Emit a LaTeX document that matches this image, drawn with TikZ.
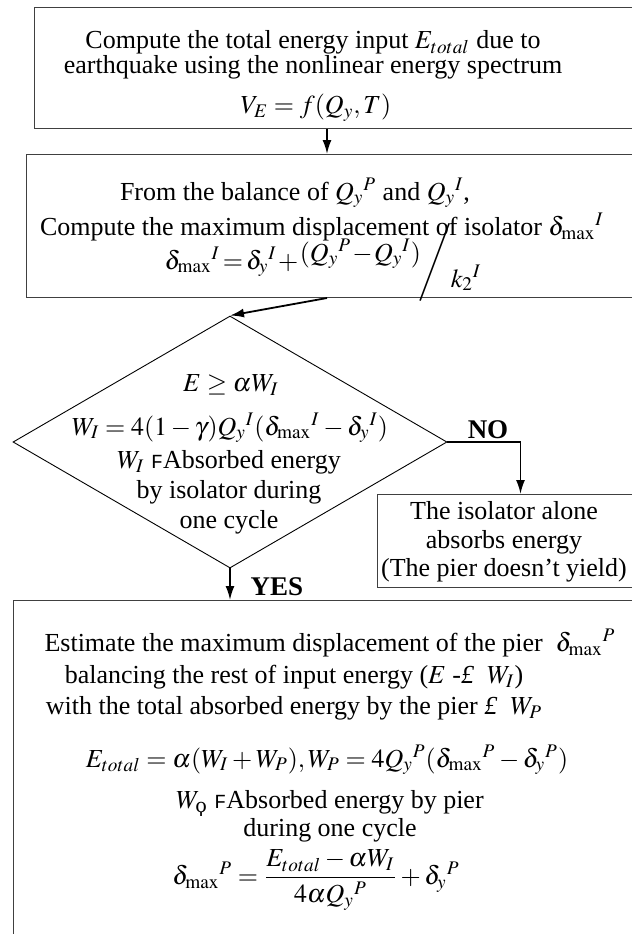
\documentclass[tikz,border=0pt]{standalone}
\usepackage{amsmath}
\usepackage{mathptmx}
\usepackage[no-math]{fontspec}
\setmainfont{Liberation Serif}
\setmonofont{Liberation Mono}
\newfontfamily\koppafont{DejaVu Serif}
\usetikzlibrary{shapes.geometric,arrows.meta}

\newcommand{\sepF}{{\fontsize{10}{10}\selectfont\ttfamily F}}

\begin{document}
\begin{tikzpicture}[x=0.5pt,y=-0.5pt]

\tikzset{
  procbox/.style={
    draw=black!75, line width=0.5pt, rectangle,
    anchor=north west, inner sep=0pt,
  },
  decbox/.style={
    draw, line width=0.45pt, diamond, inner sep=0pt,
    minimum width=217pt, minimum height=126pt,
  },
  boxtext/.style={
    inner sep=0pt, align=center, font=\fontsize{13}{14}\selectfont,
  },
  answer/.style={
    inner sep=0pt, font=\fontsize{13.5}{14}\selectfont\bfseries,
  },
  flowline/.style={
    line width=0.9pt, -{Latex[length=7pt,width=4.5pt]},
  }
}

\useasboundingbox (0,0) rectangle (632,934);
\clip (0,0) rectangle (632,934);

  % Frames
  \node[procbox, minimum width=323pt, minimum height=60.5pt] (box1) at (34,7) {};
  \node[procbox, minimum width=327pt, minimum height=71.5pt] (box2) at (26,154) {};
  \node[decbox] (dec) at (230,442) {};
  \node[procbox, minimum width=143pt, minimum height=46.5pt] (box3) at (377,494) {};
  \node[procbox, minimum width=333.5pt, minimum height=180pt] (box4) at (13,600) {};

  \coordinate (mid) at (327,140);

  % Energy input
  \node[boxtext, font=\fontsize{13}{12.5}\selectfont] (t1) at (313,55)
    {Compute the total energy input $E_{total}$ due to\\earthquake using the nonlinear energy spectrum};
  \node[boxtext] (ve) at (316,108) {$V_E = f(Q_y, T)$};

  % Isolator displacement
  \node[boxtext] (t2) at (295,193) {From the balance of $Q_y{}^P$ and $Q_y{}^I$,};
  \node[boxtext] (t3) at (322,227) {Compute the maximum displacement of isolator $\delta_{\max}{}^I$};
  \node[boxtext, anchor=base] (f1) at (323,269)
    {$\medmuskip=1mu \thickmuskip=2mu
      \delta_{\max}{}^I = \delta_y{}^I + \raisebox{4pt}{$(Q_y{}^P - Q_y{}^I)$}\!\!\left/\vrule height 16pt depth 16pt width 0pt\right.\!\!\raisebox{-9pt}{$k_2{}^I$}$};

  % Decision
  \node[boxtext] (d1) at (231,385) {$E \geq \alpha W_I$};
  \node[boxtext] (d2) at (230,428) {$W_I = 4(1-\gamma)Q_y{}^I(\delta_{\max}{}^I - \delta_y{}^I)$};
  \node[boxtext, font=\fontsize{13}{15}\selectfont] (d3) at (229,492)
    {$W_I$ \sepF Absorbed energy\\by isolator during\\one cycle};

  \node[answer] (no) at (488,430) {NO};
  \node[answer] (yes) at (277,587) {YES};

  % Isolator only
  \node[boxtext, font=\fontsize{13}{14.25}\selectfont] (t4) at (504,542)
    {The isolator alone\\absorbs energy\\(The pier doesn’t yield)};

  % Pier displacement
  \node[boxtext] (t5) at (330,643) {Estimate the maximum displacement of the pier~~$\delta_{\max}{}^P$};
  \node[boxtext] (t6) at (294,677) {balancing the rest of input energy ($E$ -\textit{£}\ \ $W_I$)};
  \node[boxtext] (t7) at (294,708) {with the total absorbed energy by the pier \textit{£}\ \ $W_P$};
  \node[boxtext] (f2) at (327,760)
    {$E_{total} = \alpha(W_I + W_P), W_P = 4Q_y{}^P(\delta_{\max}{}^P - \delta_y{}^P)$};
  \node[boxtext] (t8) at (330,816)
    {$W_{\text{\koppafont ϙ}}$ \sepF Absorbed energy by pier\\during one cycle};
  \node[boxtext] (f3) at (316,880)
    {$\delta_{\max}{}^P = \dfrac{E_{total} - \alpha W_I}{4\alpha Q_y{}^P} + \delta_y{}^P$};

  % Edges
  \draw[flowline] (box1.south -| mid) -- (box2.north -| mid);
  \draw[flowline] (box2.south -| mid) -- (dec.north);
  \draw[flowline] (dec.east) -| (box3.north);
  \draw[flowline] (dec.south) -- (dec.south |- box4.north);
\end{tikzpicture}
\end{document}
